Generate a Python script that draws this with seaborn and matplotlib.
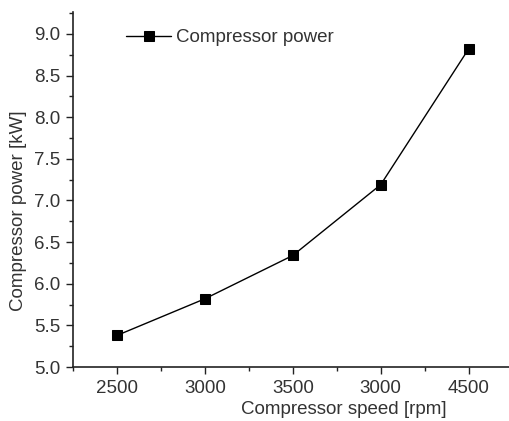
import seaborn as sns
import matplotlib.pyplot as plt
from matplotlib.ticker import MultipleLocator, AutoMinorLocator
import pandas as pd

sns.set_style("ticks")
plt.rcParams['font.family'] = ['Liberation Sans', 'DejaVu Sans']

speed_pos = [2500, 3000, 3500, 4000, 4500]
speed_labels = ["2500", "3000", "3500", "3000", "4500"]
power_kw = [5.38, 5.82, 6.34, 7.19, 8.82]

df = pd.DataFrame({"speed": speed_pos, "power": power_kw})

fig = plt.figure(figsize=(5.1, 4.21), dpi=100)
ax = fig.add_axes([0.143, 0.128, 0.857, 0.843])

sns.lineplot(data=df, x="speed", y="power", ax=ax, color="black", lw=1,
             marker="s", markersize=7.5, markeredgecolor="black",
             label="Compressor power")

ax.set_xlim(2250, 4735)
ax.set_ylim(5.0, 9.26)
ax.set_xticks(speed_pos)
ax.set_xticklabels(speed_labels)
ax.xaxis.set_minor_locator(AutoMinorLocator(2))
ax.yaxis.set_major_locator(MultipleLocator(0.5))
ax.yaxis.set_minor_locator(AutoMinorLocator(2))
ax.yaxis.set_major_formatter(plt.FormatStrFormatter('%.1f'))
ax.tick_params(which="major", direction="out", length=5, width=1, labelsize=13.5,
               colors="#222222", labelcolor="#333333", pad=4)
ax.tick_params(which="minor", direction="out", length=3, width=1, colors="#222222")
sns.despine(ax=ax)
for s in ["left", "bottom"]:
    ax.spines[s].set_linewidth(1.2)
    ax.spines[s].set_color("#222222")

ax.set_xlabel("Compressor speed [rpm]", fontsize=13.5, color="#333333")
ax.set_ylabel("Compressor power [kW]", fontsize=13.5, color="#333333")
ax.xaxis.set_label_coords(0.62, -0.095)
ax.yaxis.set_label_coords(-0.105, 0.44)

leg = ax.legend(loc="upper left", bbox_to_anchor=(0.083, 1.0), frameon=False,
                fontsize=13.5, handlelength=2.4, handletextpad=0.25)
for t in leg.get_texts():
    t.set_color("#333333")

fig.savefig("out.png", dpi=100)
